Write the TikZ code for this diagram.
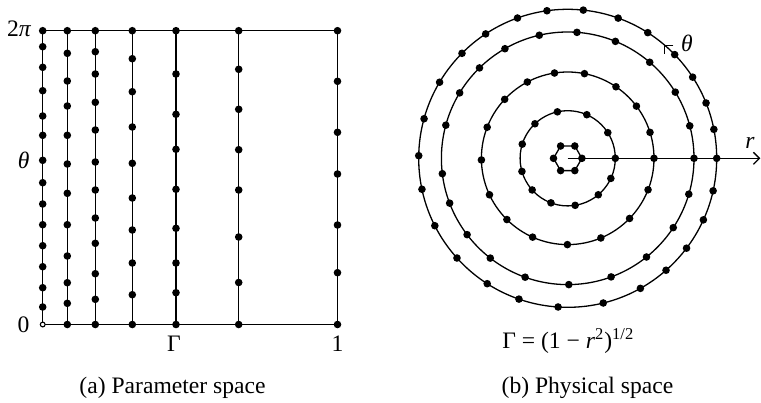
\documentclass[tikz,border=0pt]{standalone}
\usepackage{fontspec}
\setmainfont{Liberation Serif}
\usetikzlibrary{arrows.meta}
\begin{document}
\begin{tikzpicture}[x=0.5pt,y=-0.5pt,line width=0.65pt,
  font=\fontsize{11.8}{14}\selectfont,
  lab/.style={inner sep=0pt,anchor=base}]
\def\dr{1.9pt}
\useasboundingbox (0,0) rectangle (761,402);
% ---------- (a) parameter space ----------
\draw (42.7,30.7) -- (337.5,30.7);
\draw (42.7,324.5) -- (337.5,324.5);
\foreach \x/\ys in {
  42.7/{46.7,67.3,90.7,116,135.3,160.3,182.7,204,224.7,245.7,266.7,287.7,307},
  67.3/{53.3,81,106,135.3,164,193.3,224.7,256,282.7,303.3},
  95.3/{51.7,74,102.3,130,162,190,218,243.3,273.7,299.3},
  132.3/{58.7,91.7,127,163.3,198,230,263,294.7},
  176/{74,114.3,149.3,189.3,228.3,263,292.7},
  238.7/{69.3,109.3,149.7,190,237,282.5},
  337.5/{81.3,132.3,174,225,272.7}}{
  \draw (\x,30.7) -- (\x,324.5);
  \fill (\x,30.7) circle[radius=\dr];
  \foreach \y in \ys {\fill (\x,\y) circle[radius=\dr];}
}
\foreach \x in {67.3,95.3,132.3,176,238.7,337.5}{\fill (\x,324.5) circle[radius=\dr];}
\filldraw[fill=white,line width=0.55pt] (42.7,324.5) circle[radius=1.2pt];
\node[lab,anchor=base east] (l2pi) at (32,36) {2\textit{π}};
\node[lab,anchor=base east] (lth) at (30,168.3) {\textit{θ}};
\node[lab,anchor=base east] (l0) at (30,332.3) {0};
\node[lab] (lG) at (174,351.7) {Γ};
\node[lab] (l1) at (337.5,351.7) {1};
\node[lab] (capa) at (172.5,393.3) {(a) Parameter space};
% ---------- (b) physical space ----------
\coordinate (C) at (567.7,158.3);
\foreach \r/\angs in {
  74.5pt/{98,84,70.2,57.5,44.1,33,21.8,11.2,0,-12.6,-24.4,-37.1,-48.7,-60.8,-76.2,-93.7,-109.1,-122.7,-138,-153.1,-168,179,164.6,149.3,135.2,123.4,109.7},
  63.15pt/{85.8,67.8,49.5,31.6,14.9,0,-16.5,-33.3,-51.4,-69.9,-89.5,-109.7,-127.8,-142.8,-159.2,-173,164.8,148.8,134.3,119.8,103},
  43.15pt/{98.8,78.8,56,37.2,17.5,0,-21.4,-44.2,-67.4,-90.2,-114,-134.8,-155,-178.9,158.9,136.9,117.9},
  23.8pt/{102.5,66.3,32.6,0,-25,-50,-81,-110.6,-138.3,-164,162.7,133.5}}{
  \draw (C) circle[radius=\r];
  \foreach \a in \angs {\fill (C) ++(\a:\r) circle[radius=\dr];}
}
\draw (C) ++(0:7.1pt) -- ++(120:7.1pt) -- ++(180:7.1pt) -- ++(240:7.1pt) -- ++(300:7.1pt) -- ++(0:7.1pt) -- cycle;
\foreach \a in {0,60,...,300}{\fill (C) ++(\a:7.1pt) circle[radius=\dr];}
\coordinate (rend) at (760.3,158.3);
\draw[-{Straight Barb[length=3pt,width=6pt]}] (C) -- (rend);
\path (C) ++(49.3:74.5pt) coordinate (tt);
\draw[line width=0.55pt] (tt) ++(4.2pt,0) -- (tt) -- ++(0,-4.2pt);
\node[lab] (lth2) at (687,51.7) {\textit{θ}};
\node[lab] (lr) at (750,148.3) {\textit{r}};
\node[lab] (form) at (568.3,348.5) {Γ = (1 − \textit{r}\textsuperscript{2})\textsuperscript{1/2}};
\node[lab] (capb) at (587.5,393.3) {(b) Physical space};
\end{tikzpicture}
\end{document}
